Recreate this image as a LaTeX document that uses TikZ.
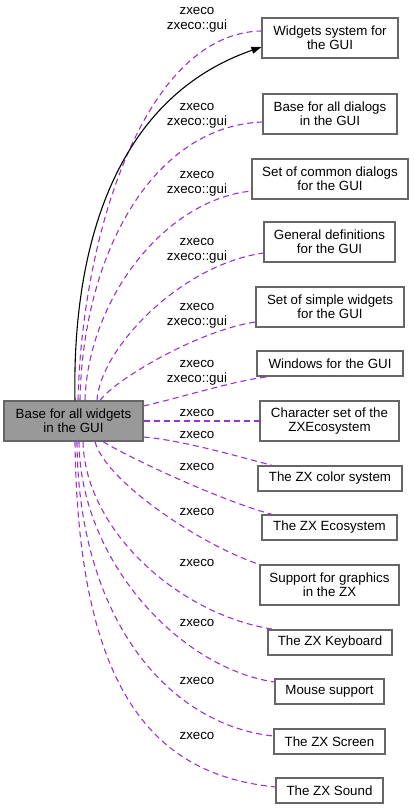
\documentclass[tikz,border=0pt]{standalone}
\usepackage{fontspec}
\setmainfont{Liberation Sans}
\usetikzlibrary{arrows.meta,calc}
\definecolor{edgepurple}{HTML}{9A32CD}
\definecolor{boxborder}{HTML}{666666}
\definecolor{mainfill}{HTML}{999999}
\begin{document}
\begin{tikzpicture}[x=1pt,y=-1pt,
  font=\fontsize{13.33}{14}\selectfont,
  box/.style={draw=boxborder, fill=white, inner sep=0pt, align=center, line width=1.1pt, minimum height=40pt},
  sbox/.style={box, minimum height=25pt},
  mainbox/.style={box, fill=mainfill},
  lbl/.style={inner sep=0pt, align=center, font=\fontsize{13.33}{15}\selectfont},
  dep/.style={draw=edgepurple, dash pattern=on 6pt off 4pt, line width=1.1pt},
  inc/.style={draw=black, line width=1.1pt, -{Triangle[length=10pt,width=7pt]}}]
\useasboundingbox (0,0) rectangle (413,809);

% nodes
\node[mainbox, minimum width=139pt] (main) at (73.5,421) {Base for all widgets\\in the GUI};
\node[box, minimum width=136pt] (widgets) at (330,38) {Widgets system for\\the GUI};
\node[box, minimum width=134pt] (dialogs) at (330,114) {Base for all dialogs\\in the GUI};
\node[box, minimum width=156pt] (common) at (330,179) {Set of common dialogs\\for the GUI};
\node[box, minimum width=131pt] (general) at (329.5,242) {General definitions\\for the GUI};
\node[box, minimum width=148pt] (simple) at (330,307) {Set of simple widgets\\for the GUI};
\node[sbox, minimum width=146pt] (windows) at (330,363.5) {Windows for the GUI};
\node[box, minimum width=139pt] (charset) at (329.5,421) {Character set of the\\ZXEcosystem};
\node[sbox, minimum width=144pt] (color) at (330,478.5) {The ZX color system};
\node[sbox, minimum width=135pt] (eco) at (329.5,527.5) {The ZX Ecosystem};
\node[box, minimum width=139pt] (graphics) at (329.5,585) {Support for graphics\\in the ZX};
\node[sbox, minimum width=124pt] (keyboard) at (330,642.5) {The ZX Keyboard};
\node[sbox, minimum width=109pt] (mouse) at (329.5,691.5) {Mouse support};
\node[sbox, minimum width=111pt] (screen) at (329.5,741.5) {The ZX Screen};
\node[sbox, minimum width=107pt] (sound) at (329.5,790.5) {The ZX Sound};

% labels
\node[lbl] (l1) at (197,19.5) {zxeco\\zxeco::gui};
\node[lbl] (l2) at (197,115.5) {zxeco\\zxeco::gui};
\node[lbl] (l3) at (197,183.5) {zxeco\\zxeco::gui};
\node[lbl] (l4) at (197,251) {zxeco\\zxeco::gui};
\node[lbl] (l5) at (197,315.5) {zxeco\\zxeco::gui};
\node[lbl] (l6) at (197,372.5) {zxeco\\zxeco::gui};
\node[lbl] (l7) at (197,413) {zxeco};
\node[lbl] (l8) at (197,435) {zxeco};
\node[lbl] (l9) at (197,467) {zxeco};
\node[lbl] (l10) at (197,512) {zxeco};
\node[lbl] (l11) at (197,563) {zxeco};
\node[lbl] (l12) at (197,623) {zxeco};
\node[lbl] (l13) at (197,681) {zxeco};
\node[lbl] (l14) at (197,736) {zxeco};

% dashed edges (upwards)
\draw[dep] ($(main.north)+(4.5,0)$) .. controls +(4,-170) and +(-115,2) .. ($(widgets.west)+(0,-7)$);
\draw[dep] ($(main.north)+(6.5,0)$) .. controls +(3,-150) and +(-108,4) .. ($(dialogs.west)+(0,8)$);
\draw[dep] ($(main.north)+(11.5,0)$) .. controls +(3,-101) and +(-87,9) .. ($(common.west)+(0,12)$);
\draw[dep] ($(main.north)+(23.5,0)$) .. controls +(3,-51) and +(-84,12) .. ($(general.west)+(0,11)$);
\draw[dep] ($(main.north)+(26.5,0)$) .. controls +(15,-21) and +(-56,8) .. ($(simple.west)+(0,15)$);
\draw[dep] ($(main.east)+(0,-15)$) .. controls +(47,-11) and +(-35,4) .. ($(windows.south west)+(13,0)$);
\draw[dep] (main.east) -- (charset.west);
% dashed edges (downwards)
\draw[dep] ($(main.east)+(0,16)$) .. controls +(37,3) and +(-38,-10) .. ($(color.north west)+(15,0)$);
\draw[dep] ($(main.south)+(29.5,0)$) .. controls +(22,14) and +(-53,-14) .. ($(eco.north west)+(11,0)$);
\draw[dep] ($(main.south)+(21.5,0)$) .. controls +(10,39) and +(-60,-20) .. (graphics.north west);
\draw[dep] ($(main.south)+(9.5,0)$) .. controls +(2,89) and +(-95,-14) .. ($(keyboard.north west)+(7,0)$);
\draw[dep] ($(main.south)+(5.5,0)$) .. controls +(1,119) and +(-95,-14) .. ($(mouse.west)+(0,-9.5)$);
\draw[dep] ($(main.south)+(3.5,0)$) .. controls +(1,179) and +(-104,-11) .. ($(screen.west)+(0,-5.5)$);
\draw[dep] ($(main.south)+(1.5,0)$) .. controls +(3,259) and +(-116,-12) .. ($(sound.west)+(0,-3.5)$);

% solid inheritance edge
\draw[inc] ($(main.north)+(1.5,0)$) .. controls +(-3,-141) and +(-153,53) .. ($(widgets.west)+(0,9)$);
\end{tikzpicture}
\end{document}
